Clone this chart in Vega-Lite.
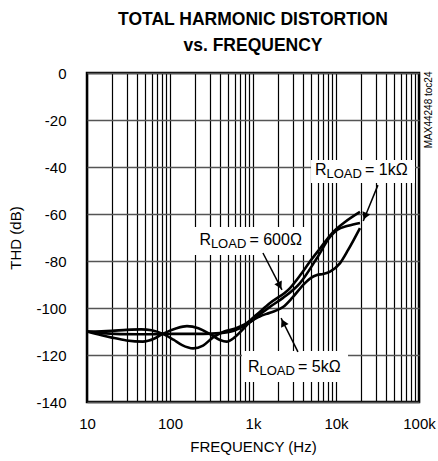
{
  "$schema": "https://vega.github.io/schema/vega-lite/v6.json",
  "autosize": {"type": "none"},
  "width": 332,
  "height": 329,
  "padding": {"left": 87, "top": 73, "right": 19, "bottom": 59},
  "background": "white",
  "title": {
    "text": ["TOTAL HARMONIC DISTORTION", "vs. FREQUENCY"],
    "fontSize": 17.5,
    "fontWeight": "bold",
    "lineHeight": 26,
    "anchor": "middle",
    "offset": 12,
    "color": "black"
  },
  "config": {
    "font": "Liberation Sans",
    "view": {"stroke": "black", "strokeWidth": 2.5},
    "axis": {
      "labelColor": "black",
      "titleColor": "black",
      "labelFontSize": 15,
      "titleFontSize": 15,
      "titleFontWeight": "normal",
      "ticks": false,
      "domain": false,
      "grid": true,
      "gridOpacity": 1,
      "labelOverlap": false,
      "labelFlush": false
    }
  },
  "datasets": {
    "curves": [
      {"series": "600", "f": 10, "db": -110},
      {"series": "600", "f": 15, "db": -109.9},
      {"series": "600", "f": 20, "db": -109.7},
      {"series": "600", "f": 30, "db": -109.3},
      {"series": "600", "f": 45, "db": -109.1},
      {"series": "600", "f": 60, "db": -109.5},
      {"series": "600", "f": 82, "db": -111},
      {"series": "600", "f": 110, "db": -113.5},
      {"series": "600", "f": 140, "db": -115.8},
      {"series": "600", "f": 190, "db": -117.2},
      {"series": "600", "f": 250, "db": -116},
      {"series": "600", "f": 330, "db": -112.5},
      {"series": "600", "f": 450, "db": -110},
      {"series": "600", "f": 600, "db": -108.8},
      {"series": "600", "f": 847, "db": -106.3},
      {"series": "600", "f": 1100, "db": -102.9},
      {"series": "600", "f": 1604, "db": -97.9},
      {"series": "600", "f": 2793, "db": -91.5},
      {"series": "600", "f": 3680, "db": -86.2},
      {"series": "600", "f": 4860, "db": -80.2},
      {"series": "600", "f": 6410, "db": -74.7},
      {"series": "600", "f": 9200, "db": -67.7},
      {"series": "600", "f": 12830, "db": -63.4},
      {"series": "600", "f": 19450, "db": -59.1},
      {"series": "1k", "f": 10, "db": -110},
      {"series": "1k", "f": 15, "db": -110.7},
      {"series": "1k", "f": 25, "db": -111.1},
      {"series": "1k", "f": 50, "db": -111.2},
      {"series": "1k", "f": 82, "db": -111},
      {"series": "1k", "f": 150, "db": -111},
      {"series": "1k", "f": 250, "db": -111},
      {"series": "1k", "f": 400, "db": -110.7},
      {"series": "1k", "f": 530, "db": -110.1},
      {"series": "1k", "f": 700, "db": -108.5},
      {"series": "1k", "f": 890, "db": -106.4},
      {"series": "1k", "f": 1200, "db": -102.8},
      {"series": "1k", "f": 1600, "db": -99.5},
      {"series": "1k", "f": 2300, "db": -95.7},
      {"series": "1k", "f": 3680, "db": -89.4},
      {"series": "1k", "f": 5900, "db": -78.7},
      {"series": "1k", "f": 8470, "db": -69.8},
      {"series": "1k", "f": 10300, "db": -66.8},
      {"series": "1k", "f": 14000, "db": -65},
      {"series": "1k", "f": 19450, "db": -63.8},
      {"series": "5k", "f": 10, "db": -110},
      {"series": "5k", "f": 15, "db": -111.6},
      {"series": "5k", "f": 20, "db": -112.6},
      {"series": "5k", "f": 30, "db": -113.8},
      {"series": "5k", "f": 47, "db": -114.3},
      {"series": "5k", "f": 65, "db": -113},
      {"series": "5k", "f": 82, "db": -111},
      {"series": "5k", "f": 120, "db": -108.6},
      {"series": "5k", "f": 160, "db": -107.7},
      {"series": "5k", "f": 220, "db": -108.6},
      {"series": "5k", "f": 300, "db": -111},
      {"series": "5k", "f": 400, "db": -113.6},
      {"series": "5k", "f": 480, "db": -114.3},
      {"series": "5k", "f": 600, "db": -112.5},
      {"series": "5k", "f": 750, "db": -109.2},
      {"series": "5k", "f": 890, "db": -106.4},
      {"series": "5k", "f": 1200, "db": -103.6},
      {"series": "5k", "f": 1600, "db": -102},
      {"series": "5k", "f": 2300, "db": -99.6},
      {"series": "5k", "f": 3000, "db": -95.5},
      {"series": "5k", "f": 4200, "db": -89.5},
      {"series": "5k", "f": 5000, "db": -87.2},
      {"series": "5k", "f": 5900, "db": -86},
      {"series": "5k", "f": 7000, "db": -85.5},
      {"series": "5k", "f": 8470, "db": -84.5},
      {"series": "5k", "f": 11200, "db": -80.9},
      {"series": "5k", "f": 14000, "db": -75.3},
      {"series": "5k", "f": 19450, "db": -66}
    ],
    "boxes": [
      {"name": "1k", "f": 5000, "f2": 89500, "db": -37.0, "db2": -46.8},
      {"name": "600", "f": 189, "f2": 4480, "db": -65.5, "db2": -77.4},
      {"name": "5k", "f": 736, "f2": 13960, "db": -118.3, "db2": -131.5}
    ],
    "labels": [
      {"name": "1k", "f": 5585, "db": -41.3, "main": "R", "sub": "LOAD", "rest": "= 1kΩ"},
      {"name": "600", "f": 226, "db": -71.1, "main": "R", "sub": "LOAD", "rest": "= 600Ω"},
      {"name": "5k", "f": 871, "db": -125.1, "main": "R", "sub": "LOAD", "rest": "= 5kΩ"}
    ],
    "arrows": [
      {"name": "1k", "f": 32000, "db": -47.7, "f2": 21300, "db2": -63},
      {"name": "600", "f": 1318, "db": -76.6, "f2": 2233, "db2": -92.3},
      {"name": "5k", "f": 3480, "db": -118.7, "f2": 2180, "db2": -104.3}
    ],
    "heads": [
      {"name": "1k", "f": 22300, "db": -60.9},
      {"name": "600", "f": 2100, "db": -90.5},
      {"name": "5k", "f": 2310, "db": -106.2}
    ],
    "code": [
      {"f": 100000, "db": -15.7, "text": "MAX44248 toc24"}
    ]
  },
  "encoding": {
    "x": {
      "field": "f",
      "type": "quantitative",
      "scale": {"type": "log", "domain": [10, 100000], "nice": false},
      "axis": {
        "title": "FREQUENCY (Hz)",
        "values": [10, 20, 30, 40, 50, 60, 70, 80, 90, 100, 200, 300, 400, 500, 600, 700, 800, 900, 1000, 2000, 3000, 4000, 5000, 6000, 7000, 8000, 9000, 10000, 20000, 30000, 40000, 50000, 60000, 70000, 80000, 90000, 100000],
        "labelExpr": "datum.value == 10 ? '10' : datum.value == 100 ? '100' : datum.value == 1000 ? '1k' : datum.value == 10000 ? '10k' : datum.value == 100000 ? '100k' : ''",
        "gridColor": "black",
        "gridWidth": 1.2,
        "labelPadding": 14,
        "titlePadding": 8
      }
    },
    "y": {
      "field": "db",
      "type": "quantitative",
      "scale": {"domain": [-140, 0], "nice": false},
      "axis": {
        "title": "THD (dB)",
        "values": [-140, -120, -100, -80, -60, -40, -20, 0],
        "labelExpr": "'' + datum.value",
        "gridColor": "#555555",
        "gridWidth": 1.5,
        "labelPadding": 21,
        "titlePadding": 12
      }
    }
  },
  "layer": [
    {
      "data": {"name": "boxes"},
      "mark": {"type": "rect", "fill": "white", "stroke": null},
      "encoding": {
        "x2": {"field": "f2"},
        "y2": {"field": "db2"}
      }
    },
    {
      "data": {"name": "curves"},
      "mark": {"type": "line", "color": "black", "strokeWidth": 2.6, "interpolate": "monotone"},
      "encoding": {
        "detail": {"field": "series", "type": "nominal"}
      }
    },
    {
      "data": {"name": "arrows"},
      "mark": {"type": "rule", "color": "black", "strokeWidth": 1.5},
      "encoding": {
        "x2": {"field": "f2"},
        "y2": {"field": "db2"}
      }
    },
    {
      "data": {"name": "heads"},
      "transform": [{"filter": "datum.name == '1k'"}],
      "mark": {"type": "point", "shape": "triangle-up", "filled": true, "color": "black", "opacity": 1, "size": 70, "angle": 202.6},
      "encoding": {}
    },
    {
      "data": {"name": "heads"},
      "transform": [{"filter": "datum.name == '600'"}],
      "mark": {"type": "point", "shape": "triangle-up", "filled": true, "color": "black", "opacity": 1, "size": 70, "angle": 152.8},
      "encoding": {}
    },
    {
      "data": {"name": "heads"},
      "transform": [{"filter": "datum.name == '5k'"}],
      "mark": {"type": "point", "shape": "triangle-up", "filled": true, "color": "black", "opacity": 1, "size": 70, "angle": 333.4},
      "encoding": {}
    },
    {
      "data": {"name": "labels"},
      "mark": {"type": "text", "align": "left", "baseline": "middle", "fontSize": 16, "color": "black"},
      "encoding": {"text": {"field": "main"}}
    },
    {
      "data": {"name": "labels"},
      "mark": {"type": "text", "align": "left", "baseline": "middle", "fontSize": 13, "color": "black", "dx": 11.5, "dy": 4},
      "encoding": {"text": {"field": "sub"}}
    },
    {
      "data": {"name": "labels"},
      "mark": {"type": "text", "align": "left", "baseline": "middle", "fontSize": 16, "color": "black", "dx": 50},
      "encoding": {"text": {"field": "rest"}}
    },
    {
      "data": {"name": "code"},
      "mark": {"type": "text", "align": "center", "baseline": "middle", "fontSize": 10, "color": "black", "angle": 270, "dy": 10},
      "encoding": {"text": {"field": "text"}}
    }
  ]
}
